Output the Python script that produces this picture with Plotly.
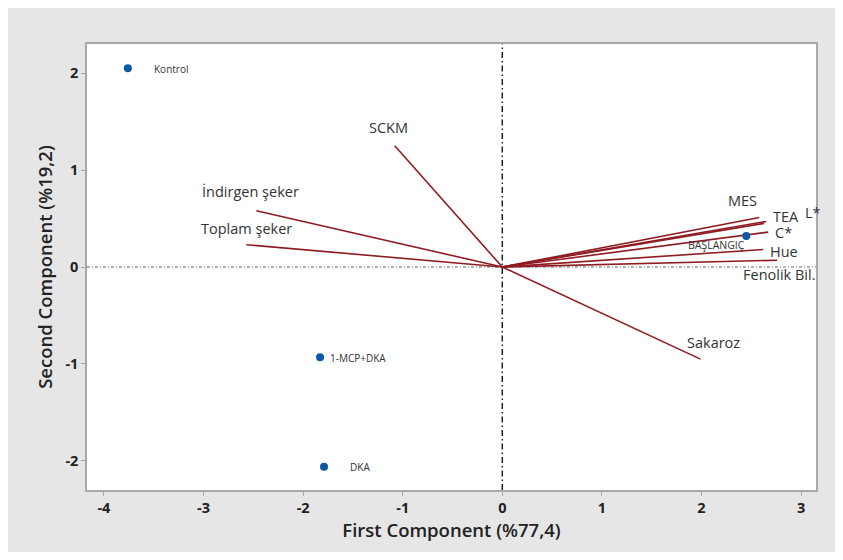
import plotly.graph_objects as go

# ---- data ----
score_names = ["Kontrol", "1-MCP+DKA", "DKA", "BAŞLANGIÇ"]
score_pc1 = [-3.76, -1.83, -1.79, 2.45]
score_pc2 = [2.05, -0.93, -2.06, 0.32]

load_names = ["SCKM", "İndirgen şeker", "Toplam şeker", "Sakaroz",
              "MES", "TEA", "L*", "C*", "Hue", "Fenolik Bil."]
load_pc1 = [-1.08, -2.47, -2.57, 1.99, 2.58, 2.63, 2.65, 2.67, 2.62, 2.76]
load_pc2 = [1.25, 0.58, 0.23, -0.95, 0.51, 0.45, 0.47, 0.36, 0.18, 0.07]

x_ticks = [-4, -3, -2, -1, 0, 1, 2, 3]
x_tick_text = ["-4", "-3", "-2", "-1", "0", "1", "2", "3"]
y_ticks = [-2, -1, 0, 1, 2]
y_tick_text = ["-2", "-1", "0", "1", "2"]

# ---- styling (pixel offsets of labels) ----
load_label_offset = {
    "SCKM": (-6, -18), "İndirgen şeker": (-6, -19), "Toplam şeker": (0, -16),
    "Sakaroz": (13, -17), "MES": (-17, -17), "TEA": (22, -7), "L*": (47, -9),
    "C*": (15, 0), "Hue": (21, 2), "Fenolik Bil.": (2, 14),
}
score_label_offset = {
    "Kontrol": (43, 1), "1-MCP+DKA": (38, 1), "DKA": (36, 0), "BAŞLANGIÇ": (-30, 9),
}

RED = "#8e1c22"
BLUE = "#0a58a8"
FONT = "Open Sans, Noto Sans, sans-serif"

fig = go.Figure()

# loading vectors
vx, vy = [], []
for a, b in zip(load_pc1, load_pc2):
    vx += [0, a, None]
    vy += [0, b, None]
fig.add_trace(go.Scatter(x=vx, y=vy, mode="lines",
                         line=dict(color=RED, width=1.6),
                         hoverinfo="skip", showlegend=False))

# scores
fig.add_trace(go.Scatter(x=score_pc1, y=score_pc2, mode="markers",
                         marker=dict(color=BLUE, size=8),
                         text=score_names, showlegend=False))

ann = []
for n, a, b in zip(load_names, load_pc1, load_pc2):
    dx, dy = load_label_offset[n]
    ann.append(dict(x=a, y=b, text=n, showarrow=False, xshift=dx, yshift=-dy,
                    font=dict(family=FONT, size=14.5, color="#333333")))
for n, a, b in zip(score_names, score_pc1, score_pc2):
    dx, dy = score_label_offset[n]
    ann.append(dict(x=a, y=b, text=n, showarrow=False, xshift=dx, yshift=-dy,
                    font=dict(family=FONT, size=10 if n != "BAŞLANGIÇ" else 10.5,
                              color="#333333")))

# figure sits at an 8px body margin inside the page
W, H = 827, 544
L, R, T, B = 79, 19, 36, 62

shapes = [
    dict(type="line", xref="x", yref="paper", x0=0, x1=0, y0=0, y1=1,
         line=dict(color="#222222", width=1.5, dash="6px,3px,1.5px,3px"), layer="below"),
    dict(type="line", xref="paper", yref="y", x0=0, x1=1, y0=0, y1=0,
         line=dict(color="#666666", width=1, dash="3px,2px,1px,2px"), layer="below"),
]

axis_common = dict(showgrid=False, zeroline=False, showline=True, mirror=True,
                   linecolor="#a8a8a8", linewidth=1.5, ticks="outside", ticklen=4,
                   tickcolor="#a8a8a8", tickwidth=1,
                   tickfont=dict(family=FONT, size=14.5, color="#222222", weight="bold"))

fig.update_layout(
    width=W, height=H, autosize=False,
    margin=dict(l=L, r=R, t=T, b=B),
    paper_bgcolor="#e6e6e6", plot_bgcolor="white",
    shapes=shapes, annotations=ann,
    xaxis=dict(range=[-4.17, 3.15], tickvals=x_ticks, ticktext=x_tick_text,
               title=dict(text="First Component (%77,4)", standoff=4,
                          font=dict(family=FONT, size=18.5, color="#222222", weight=600)),
               **axis_common),
    yaxis=dict(range=[-2.30, 2.30], tickvals=y_ticks, ticktext=y_tick_text,
               title=dict(text="Second Component (%19,2)", standoff=8,
                          font=dict(family=FONT, size=18.5, color="#222222", weight=600)),
               **axis_common),
)

fig.write_html("out.html")
